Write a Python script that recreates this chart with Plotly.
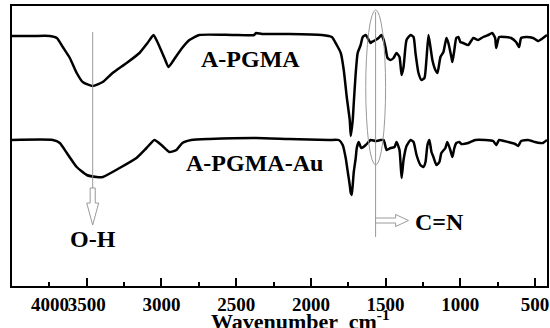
import plotly.graph_objects as go

# Wavenumber (cm-1) and relative transmittance (arbitrary units, offset spectra)
wn_top = [4000,3860,3747,3700,3660,3613,3567,3527,3460,3393,3327,3233,3147,3093,3053,3027,2980,2953,2927,2867,
          2813,2747,2527,2380,2367,2327,2147,1927,1860,1827,1800,1780,1760,1740,1733,1720,1713,1700,1687,1667,
          1653,1633,1620,1600,1593,1567,1547,1527,1513,1500,1487,1467,1447,1427,1407,1393,1380,1360,1333,1313,
          1300,1280,1260,1240,1227,1213,1200,1187,1167,1153,1133,1113,1093,1080,1060,1053,1040,1027,1013,1000,
          980,947,913,880,847,813,787,767,760,740,700,660,627,607,593,560,513,480,447,420]
t_top = [250,250,250,248,239,228,213,204,200,204,213,223,233,243,251,244,228,219,224,237,
         246,251,251,251,253,252,252,251,249,241,233,216,189,166,150,166,183,213,233,241,
         249,251,248,243,244,246,248,251,246,238,228,226,228,233,229,211,219,246,251,249,
         233,213,206,208,226,251,239,226,216,213,229,234,248,243,229,224,236,248,249,244,
         243,241,248,246,249,251,253,248,238,249,249,248,244,239,248,249,248,245,248,251]

wn_bot = [4000,3727,3680,3633,3567,3500,3433,3393,3280,3167,3100,3047,3000,2947,2900,2860,2800,2680,2367,2147,
          1880,1813,1787,1767,1753,1740,1733,1727,1720,1713,1700,1693,1680,1667,1660,1633,1620,1600,1567,1533,
          1513,1493,1467,1440,1427,1407,1393,1380,1360,1333,1313,1293,1267,1247,1233,1220,1207,1193,1180,1160,
          1140,1127,1100,1087,1067,1053,1040,1027,1007,993,947,900,833,780,760,740,680,633,613,593,
          547,500,467,447,420]
t_bot = [146,146,143,133,119,111,109,109,118,128,138,146,141,134,136,143,146,147,148,147,
         146,146,141,128,114,101,93,91,101,114,128,138,144,139,138,141,143,146,145,146,
         146,136,138,139,144,136,108,126,140,146,144,131,121,119,124,141,146,134,129,121,
         124,133,138,144,136,129,138,143,144,142,143,146,146,145,141,146,144,142,140,145,
         146,144,143,143,146]

tick_vals = [3500, 3000, 2500, 2000, 1500, 1000, 500]
tick_text = ["3500", "3000", "2500", "2000", "1500", "1000", "500"]
series_names = ["A-PGMA", "A-PGMA-Au"]
peak_oh = 3460
peak_cn = 1567

FONT = "Liberation Serif"
GRAY = "#9a9a9a"

fig = go.Figure()
fig.add_trace(go.Scatter(x=wn_top, y=t_top, mode="lines", name=series_names[0],
                         line=dict(color="black", width=2.5, shape="spline", smoothing=0.5)))
fig.add_trace(go.Scatter(x=wn_bot, y=t_bot, mode="lines", name=series_names[1],
                         line=dict(color="black", width=2.5, shape="spline", smoothing=0.5)))

shapes = [
    dict(type="line", xref="x", yref="y", x0=peak_oh, x1=peak_oh, y0=254, y1=98,
         line=dict(color=GRAY, width=1)),
    dict(type="path", xref="x", yref="y",
         path="M 3477,98 L 3443,98 L 3443,83 L 3420,83 L 3460,61 L 3500,83 L 3477,83 Z",
         fillcolor="white", line=dict(color=GRAY, width=1)),
    dict(type="circle", xref="x", yref="y", x0=1633, x1=1500, y0=121, y1=276,
         line=dict(color=GRAY, width=1)),
    dict(type="line", xref="x", yref="y", x0=peak_cn, x1=peak_cn, y0=274, y1=49,
         line=dict(color=GRAY, width=1)),
    dict(type="path", xref="x", yref="y",
         path="M 1567,68 L 1433,68 L 1433,71.5 L 1347,65.5 L 1433,59.5 L 1433,63 L 1567,63 Z",
         fillcolor="white", line=dict(color=GRAY, width=1)),
]

lab_font = dict(family=FONT, size=24, color="black", weight="bold")
annotations = [
    dict(x=2407, y=227, xref="x", yref="y", text=series_names[0], showarrow=False, font=lab_font),
    dict(x=2380, y=123, xref="x", yref="y", text=series_names[1], showarrow=False, font=lab_font),
    dict(x=peak_oh, y=47, xref="x", yref="y", text="O-H", showarrow=False, font=lab_font),
    dict(x=1140, y=64, xref="x", yref="y", text="C=N", showarrow=False, font=lab_font),
    dict(x=0.031, y=-0.022, xref="paper", yref="paper", yanchor="top", text="4000", showarrow=False,
         font=dict(family=FONT, size=19, color="black", weight="bold")),
    dict(x=0.54, y=-0.066, xref="paper", yref="paper", yanchor="top",
         text="Wavenumber  cm<sup>-1</sup>", showarrow=False,
         font=dict(family=FONT, size=22, color="black", weight="bold")),
]

fig.update_layout(
    width=550, height=328,
    margin=dict(l=12, r=1, t=6, b=42),
    paper_bgcolor="white", plot_bgcolor="white",
    showlegend=False,
    shapes=shapes, annotations=annotations,
    xaxis=dict(range=[4000, 420], tickvals=tick_vals, ticktext=tick_text,
               ticks="inside", ticklen=8, tickwidth=2, tickcolor="black",
               minor=dict(dtick=250, ticks="inside", ticklen=4, tickwidth=2, tickcolor="black"),
               showline=True, linewidth=2, linecolor="black", mirror=True,
               showgrid=False, zeroline=False,
               tickfont=dict(family=FONT, size=19, color="black", weight="bold")),
    yaxis=dict(range=[0, 280], showticklabels=False, ticks="",
               showline=True, linewidth=2, linecolor="black", mirror=True,
               showgrid=False, zeroline=False),
)

fig.write_html("out.html")
